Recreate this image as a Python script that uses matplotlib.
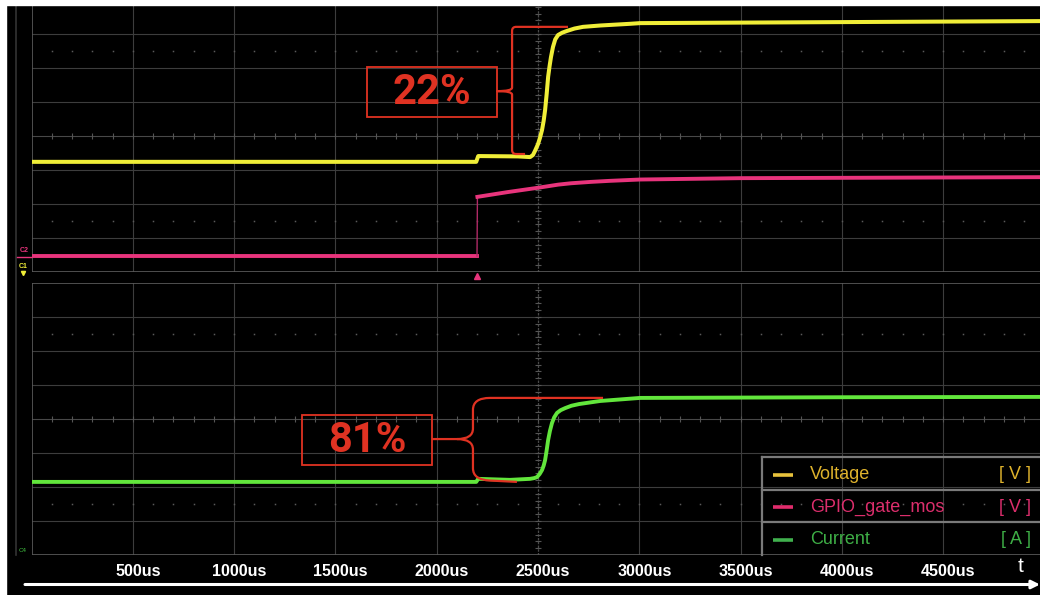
import numpy as np
import matplotlib.pyplot as plt
import matplotlib.transforms as mtransforms
from matplotlib.path import Path
from matplotlib.patches import PathPatch, Rectangle

plt.rcParams['font.family'] = ['Liberation Sans', 'DejaVu Sans']

# Scope captures, time in us, level in screen divisions (0..8 per panel)
t_voltage = [0, 2195, 2205, 2400, 2461, 2475, 2485, 2500, 2510, 2520, 2528, 2535,
             2543, 2550, 2557, 2564, 2574, 2585, 2599, 2620, 2643, 2680, 2722,
             2807, 2955, 3004, 4000, 5000]
v_voltage = [3.24, 3.24, 3.41, 3.40, 3.38, 3.44, 3.56, 3.76, 3.95, 4.18, 4.45, 4.76,
             5.25, 5.74, 6.05, 6.32, 6.62, 6.84, 6.97, 7.04, 7.09, 7.16, 7.21,
             7.25, 7.30, 7.32, 7.35, 7.38]

t_gate = [0, 2199, 2201, 2350, 2503, 2600, 2663, 2760, 2851, 3004, 3502, 4005, 5000]
v_gate = [0.47, 0.47, 2.21, 2.35, 2.48, 2.57, 2.61, 2.65, 2.68, 2.72, 2.76, 2.77, 2.79]

t_current = [0, 2195, 2205, 2362, 2461, 2480, 2495, 2508, 2520, 2528, 2535, 2542,
             2550, 2559, 2569, 2580, 2594, 2612, 2634, 2665, 2703, 2807, 3004,
             4000, 5000]
v_current = [2.15, 2.15, 2.24, 2.21, 2.24, 2.26, 2.29, 2.38, 2.50, 2.63, 2.79, 3.05,
             3.38, 3.65, 3.88, 4.05, 4.18, 4.26, 4.32, 4.39, 4.44, 4.53, 4.62,
             4.64, 4.65]

tick_times = [500, 1000, 1500, 2000, 2500, 3000, 3500, 4000, 4500]
tick_labels = ['500us', '1000us', '1500us', '2000us', '2500us',
               '3000us', '3500us', '4000us', '4500us']

legend_names = ['Voltage', 'GPIO_gate_mos', 'Current']
legend_units = ['[ V ]', '[ V ]', '[ A ]']

YELLOW = '#f0ee38'
PINK = '#e8347c'
GREEN = '#62e63c'
RED = '#e03222'
GRID = '#3d3d3d'
EDGE = '#5c5c5c'

W, H = 1040, 595
fig = plt.figure(figsize=(W / 100, H / 100), dpi=100, facecolor='black')


def panel(top_px):
    ax = fig.add_axes([31.5 / W, 1 - (top_px + 272) / H, 1013 / W, 272 / H])
    ax.set_facecolor('black')
    ax.set_xlim(0, 5000)
    ax.set_ylim(0, 8)
    for s in ax.spines.values():
        s.set_visible(False)
    ax.tick_params(left=False, labelleft=False, bottom=False, labelbottom=False)
    # graticule
    for d in range(1, 8):
        if d != 4:
            ax.axhline(d, color=GRID, lw=0.8, zorder=0)
    for t in range(500, 5000, 500):
        if t != 2500:
            ax.axvline(t, color=GRID, lw=0.8, zorder=0)
    ax.axhline(4, color='#484848', lw=0.8, zorder=0)
    ax.axvline(2500, color='#4a4a4a', lw=0.9, ls=(0, (2, 1)), zorder=0)
    steps = np.arange(100, 5000, 100)
    ax.plot(steps, np.full(len(steps), 4), ls='none', marker='|', ms=4,
            mew=0.8, color='#555555', zorder=0)
    divs = np.arange(0.2, 8, 0.2)
    ax.plot(np.full(len(divs), 2500), divs, ls='none', marker='_', ms=4,
            mew=0.8, color='#555555', zorder=0)
    for row in (1.5, 6.5):
        ax.plot(steps, np.full(len(steps), row), ls='none', marker='s', ms=1.1,
                mew=0, color='#5a5a5a', zorder=0)
    ax.axvline(0, color=EDGE, lw=1.2, zorder=1)
    ax.axhline(0, color=EDGE, lw=1.2, zorder=1)
    return ax


ax_top = panel(0)
ax_bot = panel(283)
ax_bot.axhline(8, color=EDGE, lw=1.2, zorder=1)

# traces
ax_top.plot(t_voltage, v_voltage, color=YELLOW, lw=2.9, solid_joinstyle='round', zorder=3)
ax_top.plot(t_gate[:2], v_gate[:2], color=PINK, lw=2.8, zorder=3)
ax_top.plot(t_gate[1:3], v_gate[1:3], color='#b02a66', lw=1.0, zorder=3)
ax_top.plot(t_gate[2:], v_gate[2:], color=PINK, lw=2.8, solid_joinstyle='round', zorder=3)
ax_bot.plot(t_current, v_current, color=GREEN, lw=2.8, solid_joinstyle='round', zorder=3)

# trigger marker
ax_top.plot([t_gate[1]], [-0.12], marker='^', ms=5, color=PINK, clip_on=False, zorder=4)


def bracket(ax, verts, codes):
    ax.add_patch(PathPatch(Path(verts, codes), fill=False, ec=RED, lw=1.6,
                           capstyle='butt', joinstyle='round', zorder=5, clip_on=False))


M, L, C = Path.MOVETO, Path.LINETO, Path.CURVE3

# 22% callout
ax_top.add_patch(Rectangle((1656, 4.56), 642, 1.47, fill=False, ec=RED, lw=1.3, zorder=5))
ax_top.text(1977, 5.29, '22%', color=RED, fontsize=30, fontweight='bold',
            family='Roboto', ha='center', va='center', zorder=6)
bracket(ax_top,
        [(2648, 7.21), (2392, 7.21), (2372, 7.21), (2372, 7.09),
         (2372, 5.42), (2372, 5.32), (2298, 5.32),
         (2372, 5.32), (2372, 5.22),
         (2372, 3.59), (2372, 3.47), (2392, 3.47), (2436, 3.47)],
        [M, L, C, C, L, C, C, C, C, L, C, C, L])

# 81% callout
ax_bot.add_patch(Rectangle((1335, 2.65), 642, 1.47, fill=False, ec=RED, lw=1.3, zorder=5))
ax_bot.text(1656, 3.38, '81%', color=RED, fontsize=30, fontweight='bold',
            family='Roboto', ha='center', va='center', zorder=6)
bracket(ax_bot,
        [(2821, 4.62), (2263, 4.62), (2179, 4.62), (2179, 4.27),
         (2179, 3.72), (2179, 3.41), (2100, 3.41), (1977, 3.41),
         (2100, 3.41), (2179, 3.41), (2179, 3.10),
         (2179, 2.55), (2179, 2.21), (2263, 2.19), (2396, 2.15)],
        [M, L, C, C, L, C, C, L, M, C, C, L, C, C, L])

# time axis labels
ax_bot.set_xticks(tick_times)
ax_bot.set_xticklabels(tick_labels)
ax_bot.tick_params(bottom=False, labelbottom=True, colors='white', pad=3,
                   labelsize=11.5)
shift = mtransforms.ScaledTranslation(5 / 100, 0, fig.dpi_scale_trans)
for lbl in ax_bot.get_xticklabels():
    lbl.set_fontweight('bold')
    lbl.set_transform(lbl.get_transform() + shift)

# screen overlay in pixel units
ov = fig.add_axes([0, 0, 1, 1], facecolor='none')
ov.set_xlim(0, W)
ov.set_ylim(H, 0)
ov.axis('off')

ov.add_patch(Rectangle((0, 0), W, 5, color='white', zorder=10))
ov.add_patch(Rectangle((0, 0), 6, H, color='white', zorder=10))
ov.plot([16, 16], [5, 555], color='#333333', lw=1.2)

ov.text(24, 251, 'C2', color=PINK, fontsize=5, ha='center', va='center', fontweight='bold')
ov.plot([17, 31], [257, 257], color=PINK, lw=1)
ov.text(23, 267, 'C1', color=YELLOW, fontsize=5, ha='center', va='center', fontweight='bold')
ov.plot([22.5], [273], marker='v', ms=3, color=YELLOW)
ov.text(23, 551, 'C4', color='#40c040', fontsize=4.5, ha='center', va='center')

# legend table
rows = [457, 490, 522, 555]
ov.plot([762, 762], [rows[0], rows[-1]], color='#7a7a7a', lw=1.6)
for y in rows[:-1]:
    ov.plot([762, W], [y, y], color='#7a7a7a', lw=1.6)
dash_cols = ['#e8c23c', '#e02c6c', '#40b04e']
text_cols = ['#deb22c', '#dc2e6c', '#3eae46']
for i, (name, unit) in enumerate(zip(legend_names, legend_units)):
    yc = (rows[i] + rows[i + 1]) / 2 + 1
    ov.plot([773, 793], [yc, yc], color=dash_cols[i], lw=2.6, solid_capstyle='butt')
    ov.text(810, yc, name, color=text_cols[i], fontsize=13, va='center', ha='left')
    ov.text(1031, yc, unit, color=text_cols[i], fontsize=13, va='center', ha='right')

ov.text(1021, 566, 't', color='white', fontsize=15, ha='center', va='center')
ov.annotate('', xy=(1040, 584.5), xytext=(25, 584.5),
            arrowprops=dict(arrowstyle='-|>', color='white', lw=2.2,
                            mutation_scale=12, shrinkA=0, shrinkB=0))

fig.savefig('out.png', dpi=100, facecolor='black')
